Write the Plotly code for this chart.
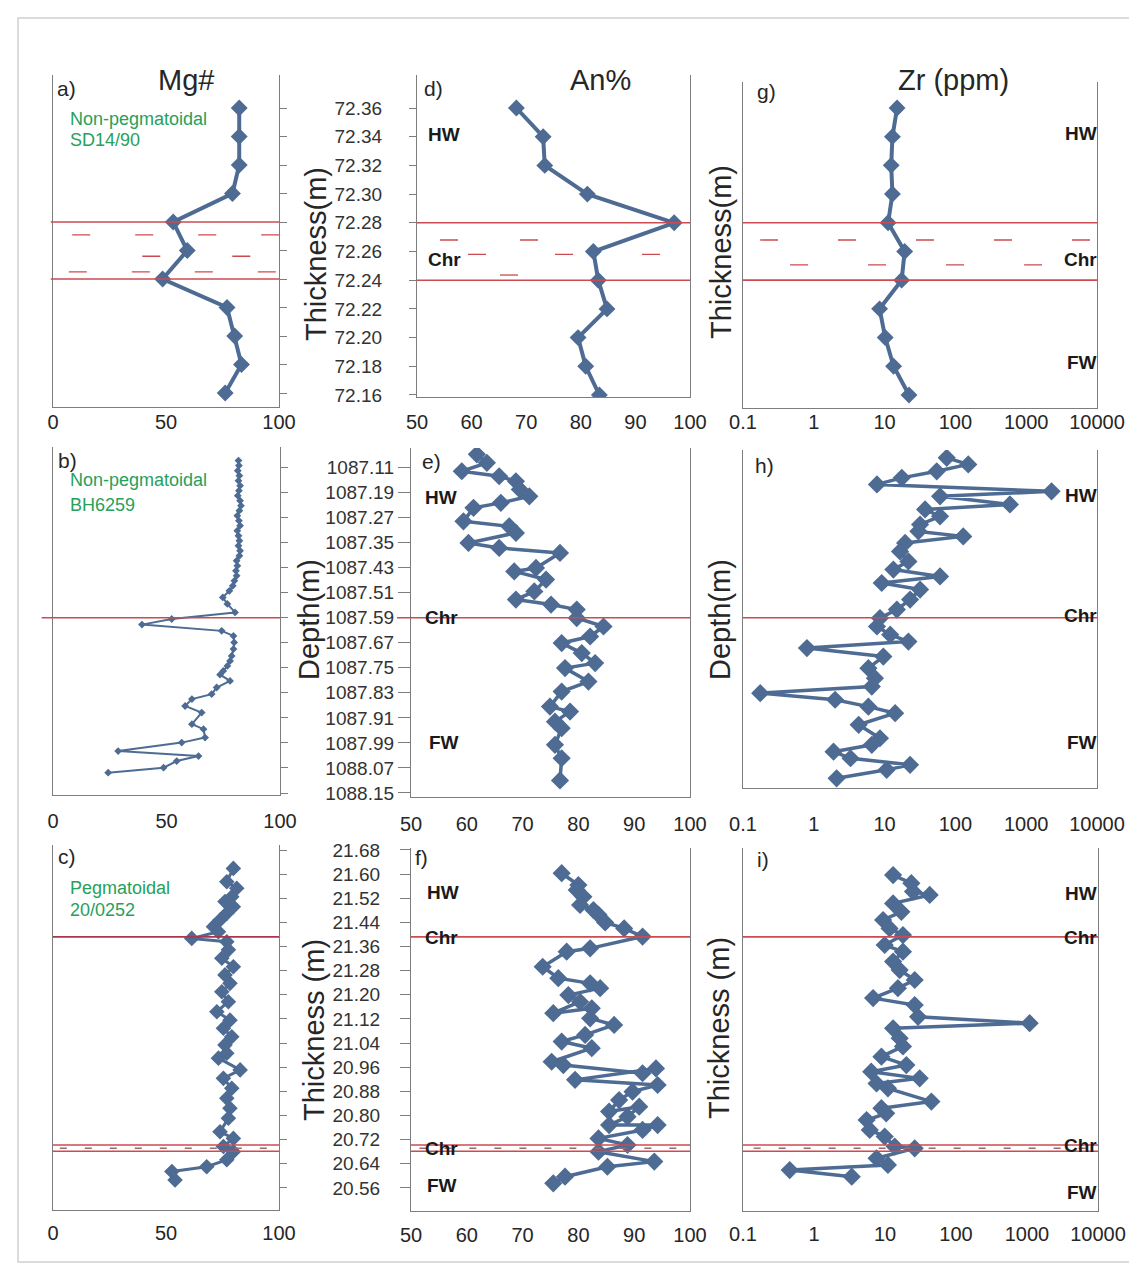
import plotly.graph_objects as go

# page body has an 8px margin; lay the figure out in screen pixels minus that offset
OFF = 8
W, H = 1137 - OFF, 1279 - OFF
FONT = "Liberation Sans, Arial, sans-serif"
BLUE = "#4e6b93"
RED = "#cc4b50"
DARKRED = "#a8364f"
GREEN = "#27a05c"
AX = "#7d7d7d"
TXT = "#262626"

# ---------------- data ----------------
# SD14/90 (non-pegmatoidal) - thickness (m)
sd_thk = [72.36, 72.34, 72.32, 72.30, 72.28, 72.26, 72.24, 72.22, 72.20, 72.18, 72.16]
sd_mg = [82.4, 82.4, 82.4, 79.4, 53.2, 59.4, 48.5, 77.0, 80.4, 83.4, 76.2]
sd_an = [68.2, 73.1, 73.4, 81.2, 97.1, 82.3, 83.2, 84.8, 79.5, 80.9, 83.4]
sd_zr = [15.0, 12.9, 12.4, 12.9, 11.2, 19.2, 17.4, 8.5, 10.2, 13.4, 22.1]
sd_ticks = [72.16, 72.18, 72.20, 72.22, 72.24, 72.26, 72.28, 72.30, 72.32, 72.34, 72.36]

# BH6259 (non-pegmatoidal) - depth (m)
bh_mg_depth = [1087.088, 1087.104, 1087.120, 1087.136, 1087.152, 1087.168, 1087.184, 1087.200,
               1087.216, 1087.232, 1087.248, 1087.264, 1087.280, 1087.296, 1087.312, 1087.328,
               1087.344, 1087.360, 1087.376, 1087.392, 1087.408, 1087.424, 1087.440, 1087.456,
               1087.472, 1087.488, 1087.504, 1087.525, 1087.546, 1087.573, 1087.594, 1087.612,
               1087.632, 1087.648, 1087.669, 1087.690, 1087.712, 1087.728, 1087.744, 1087.760,
               1087.772, 1087.792, 1087.813, 1087.834, 1087.850, 1087.872, 1087.893, 1087.930,
               1087.946, 1087.973, 1087.989, 1088.016, 1088.032, 1088.048, 1088.069, 1088.085]
bh_mg = [81.7, 81.9, 81.4, 82.1, 81.7, 82.4, 81.9, 81.4, 82.4, 82.8, 82.1, 81.2, 81.9, 82.4,
         81.2, 81.7, 82.1, 81.7, 82.4, 82.1, 80.9, 81.2, 80.6, 80.9, 79.9, 79.2, 77.7,
         74.8, 76.8, 80.2, 52.3, 39.2, 74.3, 79.5, 79.8, 79.5, 78.7, 78.0, 76.8, 75.0,
         73.6, 78.0, 72.1, 69.9, 61.2, 58.2, 65.5, 61.2, 66.3, 67.0, 56.7, 28.7, 64.1,
         54.5, 48.7, 24.3]
bh_an_depth = [1087.068, 1087.095, 1087.122, 1087.138, 1087.154, 1087.180, 1087.202, 1087.223,
               1087.239, 1087.282, 1087.298, 1087.319, 1087.351, 1087.367, 1087.383, 1087.431,
               1087.442, 1087.468, 1087.506, 1087.532, 1087.548, 1087.564, 1087.591, 1087.618,
               1087.650, 1087.671, 1087.703, 1087.735, 1087.751, 1087.794, 1087.826, 1087.874,
               1087.890, 1087.922, 1087.943, 1087.996, 1088.039, 1088.110]
bh_an = [61.8, 63.6, 59.1, 65.8, 68.8, 69.5, 71.2, 66.1, 61.2, 59.4, 67.6, 68.8, 60.3, 65.8,
         76.7, 72.4, 68.5, 74.2, 72.1, 68.8, 75.1, 79.7, 79.7, 84.5, 82.1, 77.0, 80.6, 83.0,
         77.6, 81.8, 77.0, 74.9, 78.5, 75.8, 77.0, 75.8, 77.0, 76.7]
bh_zr_depth = [1087.079, 1087.100, 1087.122, 1087.143, 1087.164, 1087.186, 1087.202, 1087.228,
               1087.244, 1087.266, 1087.292, 1087.314, 1087.330, 1087.351, 1087.378, 1087.410,
               1087.436, 1087.458, 1087.479, 1087.500, 1087.532, 1087.564, 1087.591, 1087.618,
               1087.644, 1087.666, 1087.687, 1087.714, 1087.751, 1087.783, 1087.810, 1087.831,
               1087.852, 1087.874, 1087.895, 1087.932, 1087.975, 1087.996, 1088.018, 1088.039,
               1088.060, 1088.076, 1088.103]
bh_zr = [75.4, 152, 54.5, 17.5, 7.8, 2280, 60.7, 589, 37.3, 60.7, 31.7, 30, 129, 19.5, 16.5,
         21.7, 13.3, 60.7, 9.1, 31.7, 22.9, 14.9, 8.6, 7.8, 12, 21.7, 0.8, 9.6, 5.9, 7.3, 6.6,
         0.175, 2.0, 5.9, 14.1, 4.3, 8.6, 6.6, 1.9, 3.3, 22.9, 10.7, 2.1]
bh_ticks = [1087.11, 1087.19, 1087.27, 1087.35, 1087.43, 1087.51, 1087.59, 1087.67, 1087.75,
            1087.83, 1087.91, 1087.99, 1088.07, 1088.15]

# 20/0252 (pegmatoidal) - thickness (m)
pg_mg_thk = [21.619, 21.575, 21.553, 21.525, 21.509, 21.492, 21.470, 21.448, 21.426, 21.409,
             21.387, 21.376, 21.349, 21.321, 21.293, 21.266, 21.238, 21.210, 21.177, 21.144,
             21.116, 21.089, 21.061, 21.034, 21.006, 20.990, 20.951, 20.923, 20.890, 20.857,
             20.824, 20.791, 20.746, 20.724, 20.697, 20.680, 20.653, 20.630, 20.614, 20.586]
pg_mg = [79.8, 76.9, 81.3, 79.1, 76.1, 79.8, 76.9, 73.9, 71.0, 73.2, 61.4, 76.9, 77.6, 74.7,
         79.8, 76.1, 78.3, 74.7, 77.6, 72.5, 78.3, 75.4, 79.1, 76.1, 76.9, 73.2, 82.8, 75.4,
         79.1, 76.9, 78.3, 77.6, 73.9, 79.8, 75.4, 79.8, 76.9, 68.0, 52.6, 54.0]
pg_an_thk = [21.603, 21.564, 21.547, 21.525, 21.498, 21.481, 21.465, 21.440, 21.420, 21.393,
             21.354, 21.343, 21.293, 21.255, 21.238, 21.222, 21.199, 21.177, 21.139, 21.155,
             21.122, 21.100, 21.067, 21.045, 21.023, 20.978, 20.967, 20.940, 20.956, 20.918,
             20.901, 20.879, 20.851, 20.813, 20.829, 20.796, 20.768, 20.768, 20.752, 20.724,
             20.702, 20.680, 20.647, 20.630, 20.597, 20.575]
pg_an = [77.0, 80.0, 79.7, 80.9, 80.3, 82.7, 83.6, 84.8, 88.2, 91.5, 82.1, 77.9, 73.6, 76.4,
         82.1, 83.9, 78.2, 80.3, 75.5, 82.4, 82.1, 86.4, 81.2, 77.0, 82.4, 75.2, 77.3, 91.5,
         93.9, 79.4, 94.2, 89.7, 87.3, 85.5, 90.9, 88.8, 85.5, 94.2, 91.5, 83.6, 88.8, 83.6,
         93.6, 85.2, 77.6, 75.5]
pg_zr_thk = [21.597, 21.570, 21.542, 21.531, 21.503, 21.475, 21.448, 21.420, 21.398, 21.365,
             21.343, 21.310, 21.282, 21.249, 21.222, 21.189, 21.166, 21.127, 21.106, 21.089,
             21.056, 21.029, 20.995, 20.967, 20.945, 20.923, 20.906, 20.890, 20.846, 20.824,
             20.807, 20.785, 20.752, 20.730, 20.697, 20.691, 20.658, 20.636, 20.619, 20.597]
pg_zr = [13, 23.5, 24.8, 42.6, 13, 17, 9.4, 11.6, 17.9, 9.9, 17.9, 13, 16.1, 26.2, 15.2, 6.8,
         26.2, 29.2, 1090, 13, 16.1, 17.9, 8.9, 20, 6.4, 30.8, 7.6, 11, 45, 8.9, 10.4, 5.5,
         6.1, 9.9, 13.7, 26.2, 7.6, 11, 0.455, 3.4]
pg_ticks = [20.48, 20.56, 20.64, 20.72, 20.80, 20.88, 20.96, 21.04, 21.12, 21.20, 21.28,
            21.36, 21.44, 21.52, 21.60, 21.68]

mg_ticks = [0, 50, 100]
an_ticks = [50, 60, 70, 80, 90, 100]
zr_ticks = [0.1, 1, 10, 100, 1000, 10000]
zr_ticktext = ["0.1", "1", "10", "100", "1000", "10000"]

chr_sd = [72.28, 72.24]
chr_bh = [1087.59]
chr_pg_top = 21.392
chr_pg_bot = [20.702, 20.681]

# ---------------- panels (screen pixel boxes: left, right, top, bottom) ----------------
# so = x tick-label standoff, yso = y tick-label standoff, tl = y tick length
panels = [
    dict(n=1, box=(53, 279, 75, 407), kind="mg", col="L", yr=[72.1502, 72.3832], yt=sd_ticks,
         x=sd_mg, y=sd_thk, ms=13, lw=4, so=-3),
    dict(n=4, box=(417, 690, 75, 397), kind="an", col="M", yr=[72.1586, 72.383], yt=sd_ticks,
         x=sd_an, y=sd_thk, ms=13, lw=4, so=7, yso=23, tl=7),
    dict(n=7, box=(743, 1097, 82, 408), kind="zr", col="R", yr=[72.1509, 72.3781], yt=sd_ticks,
         x=sd_zr, y=sd_thk, ms=13, lw=4, so=-4),
    dict(n=2, box=(53, 280, 447, 795), kind="mg", col="L", yr=[1088.1564, 1087.0445], yt=bh_ticks,
         x=bh_mg, y=bh_mg_depth, ms=6, lw=2, so=8),
    dict(n=5, box=(411, 690, 448, 797), kind="an", col="M", yr=[1088.1628, 1087.0477], yt=bh_ticks,
         x=bh_an, y=bh_an_depth, ms=14, lw=3.5, so=9, yso=0, tl=12),
    dict(n=8, box=(743, 1097, 450, 788), kind="zr", col="R", yr=[1088.134, 1087.054], yt=bh_ticks,
         x=bh_zr, y=bh_zr_depth, ms=14, lw=3.5, so=18),
    dict(n=3, box=(53, 279, 845, 1210), kind="mg", col="L", yr=[20.4866, 21.6966], yt=pg_ticks,
         x=pg_mg, y=pg_mg_thk, ms=12, lw=3, so=5),
    dict(n=6, box=(411, 690, 848, 1211), kind="an", col="M", yr=[20.4833, 21.6866], yt=pg_ticks,
         x=pg_an, y=pg_an_thk, ms=14, lw=3.5, so=6, yso=16, tl=10),
    dict(n=9, box=(743, 1098, 848, 1211), kind="zr", col="R", yr=[20.4833, 21.6866], yt=pg_ticks,
         x=pg_zr, y=pg_zr_thk, ms=14, lw=3.5, so=5),
]


def px(x):
    return (x - OFF) / W


def py(y):
    return 1 - (y - OFF) / H


fig = go.Figure()
layout = dict(width=W, height=H, margin=dict(l=0, r=0, t=0, b=0, autoexpand=False),
              paper_bgcolor="white", plot_bgcolor="white", showlegend=False,
              font=dict(family=FONT, color=TXT))
shapes = []
annotations = []


def sid(n):
    return "" if n == 1 else str(n)


for p in panels:
    n = p["n"]
    l, r, t, b = p["box"]
    s = sid(n)
    xa = dict(domain=[px(l), px(r)], anchor="y" + s, showline=True, linecolor=AX, linewidth=1.3,
              mirror=False, ticks="", showgrid=False, zeroline=False, fixedrange=True,
              automargin=False,
              tickfont=dict(size=20, color=TXT, family=FONT), ticklabelstandoff=p["so"])
    if p["kind"] == "mg":
        xa.update(range=[0, 100], tickvals=mg_ticks)
    elif p["kind"] == "an":
        xa.update(range=[50, 100], tickvals=an_ticks)
    else:
        xa.update(type="log", range=[-1, 4], tickvals=zr_ticks, ticktext=zr_ticktext)
    ya = dict(domain=[py(b), py(t)], anchor="x" + s, range=p["yr"], showline=True,
              linecolor=AX, linewidth=1.3, mirror=True, showgrid=False, zeroline=False,
              fixedrange=True, tickvals=p["yt"], automargin=False)
    if p["col"] == "L":
        ya.update(side="right", ticks="outside", ticklen=7, tickcolor=AX, tickwidth=1.2,
                  showticklabels=False)
    elif p["col"] == "M":
        ya.update(side="left", ticks="outside", ticklen=p["tl"], tickcolor=AX, tickwidth=1.2,
                  tickformat=".2f", ticklabelstandoff=p["yso"],
                  tickfont=dict(size=19, color="#333333", family=FONT))
    else:
        ya.update(ticks="", showticklabels=False)
    layout["xaxis" + s] = xa
    layout["yaxis" + s] = ya
    fig.add_trace(go.Scatter(x=p["x"], y=p["y"], xaxis="x" + s, yaxis="y" + s, mode="lines+markers",
                             line=dict(color=BLUE, width=p["lw"]),
                             marker=dict(symbol="diamond", size=p["ms"], color=BLUE),
                             hoverinfo="skip"))


def hline(n, y, color=RED, width=1.6, x0=0, x1=1, dash=None):
    s = sid(n)
    ln = dict(color=color, width=width)
    if dash:
        ln["dash"] = dash
    shapes.append(dict(type="line", xref=f"x{s} domain", yref=f"y{s}", x0=x0, x1=x1, y0=y, y1=y,
                       line=ln, layer="above"))


# chromitite contacts, top row
for n in (1, 4, 7):
    for yv in chr_sd:
        hline(n, yv, x0=-0.01 if n == 1 else 0)
# chromitite dash symbols (top row)
hline(1, 72.271, width=1.3, x0=0.085, x1=1.0, dash="18px,45px")
hline(1, 72.256, width=1.3, x0=0.395, x1=0.9, dash="18px,72px")
hline(1, 72.245, width=1.3, x0=0.07, x1=1.0, dash="18px,45px")
hline(4, 72.268, width=1.3, x0=0.084, x1=0.5, dash="18px,62px")
hline(4, 72.258, width=1.3, x0=0.187, x1=1.0, dash="18px,69px")
hline(4, 72.2436, width=1.3, x0=0.304, x1=0.4, dash="18px,62px")
hline(7, 72.268, width=1.3, x0=0.048, x1=1.0, dash="18px,60px")
hline(7, 72.2506, width=1.3, x0=0.133, x1=1.0, dash="18px,60px")

# middle row
hline(2, chr_bh[0], width=1.3, x0=-0.05)
hline(5, chr_bh[0], width=1.3, x0=-0.05)
hline(8, chr_bh[0], width=1.3)

# bottom row
hline(3, chr_pg_top, color=DARKRED, width=1.8)
hline(6, chr_pg_top, width=1.6)
hline(9, chr_pg_top, width=1.6)
for n in (3, 6, 9):
    for yv in chr_pg_bot:
        hline(n, yv, width=1.5)
    hline(n, sum(chr_pg_bot) / 2, color="#a06a6a", width=1.4, x0=0.03, dash="7px,18px")

# outer frame
shapes.append(dict(type="rect", xref="paper", yref="paper", x0=px(18), x1=1.02, y0=py(1262),
                   y1=py(18), line=dict(color="#cfcfcf", width=1.5), layer="below"))


def txt(s, x, y, size, color=TXT, bold=False, xanchor="left", angle=0):
    annotations.append(dict(text=f"<b>{s}</b>" if bold else s, x=px(x), y=py(y),
                            xref="paper", yref="paper", showarrow=False, xanchor=xanchor,
                            yanchor="middle", textangle=angle,
                            font=dict(size=size, color=color, family=FONT)))


# column titles
txt("Mg#", 186, 80, 29, xanchor="center")
txt("An%", 600, 80, 29, xanchor="center")
txt("Zr (ppm)", 953, 80, 29, xanchor="center")

# panel letters
for s, x, y in [("a)", 55, 88), ("b)", 56, 460), ("c)", 56, 856), ("d)", 422, 88),
                ("e)", 420, 461), ("f)", 413, 857), ("g)", 755, 91), ("h)", 753, 465),
                ("i)", 755, 859)]:
    txt(s, x, y, 21)

# borehole labels
txt("Non-pegmatoidal", 68, 119, 18, GREEN)
txt("SD14/90", 68, 140, 18, GREEN)
txt("Non-pegmatoidal", 68, 480, 18, GREEN)
txt("BH6259", 68, 505, 18, GREEN)
txt("Pegmatoidal", 68, 888, 18, GREEN)
txt("20/0252", 68, 910, 18, GREEN)

# unit labels
for s, x, y in [("HW", 426, 135), ("Chr", 426, 260),
                ("HW", 423, 497), ("Chr", 423, 617), ("FW", 427, 742),
                ("HW", 425, 892), ("Chr", 423, 937), ("Chr", 423, 1148), ("FW", 425, 1185)]:
    txt(s, x, y, 19, "#1a1a1a", bold=True)
for s, y in [("HW", 133), ("Chr", 260), ("FW", 362), ("HW", 495), ("Chr", 615), ("FW", 742),
             ("HW", 893), ("Chr", 937), ("Chr", 1145), ("FW", 1192)]:
    txt(s, 1099, y, 19, "#1a1a1a", bold=True, xanchor="right")

# y-axis titles
for s, x, y in [("Thickness(m)", 316, 254), ("Depth(m)", 309, 620), ("Thickness (m)", 314, 1030),
                ("Thickness(m)", 721, 252), ("Depth(m)", 720, 620), ("Thickness (m)", 719, 1028)]:
    txt(s, x, y, 29, xanchor="center", angle=-90)

layout["shapes"] = shapes
layout["annotations"] = annotations
fig.update_layout(**layout)
fig.write_html("out.html")
